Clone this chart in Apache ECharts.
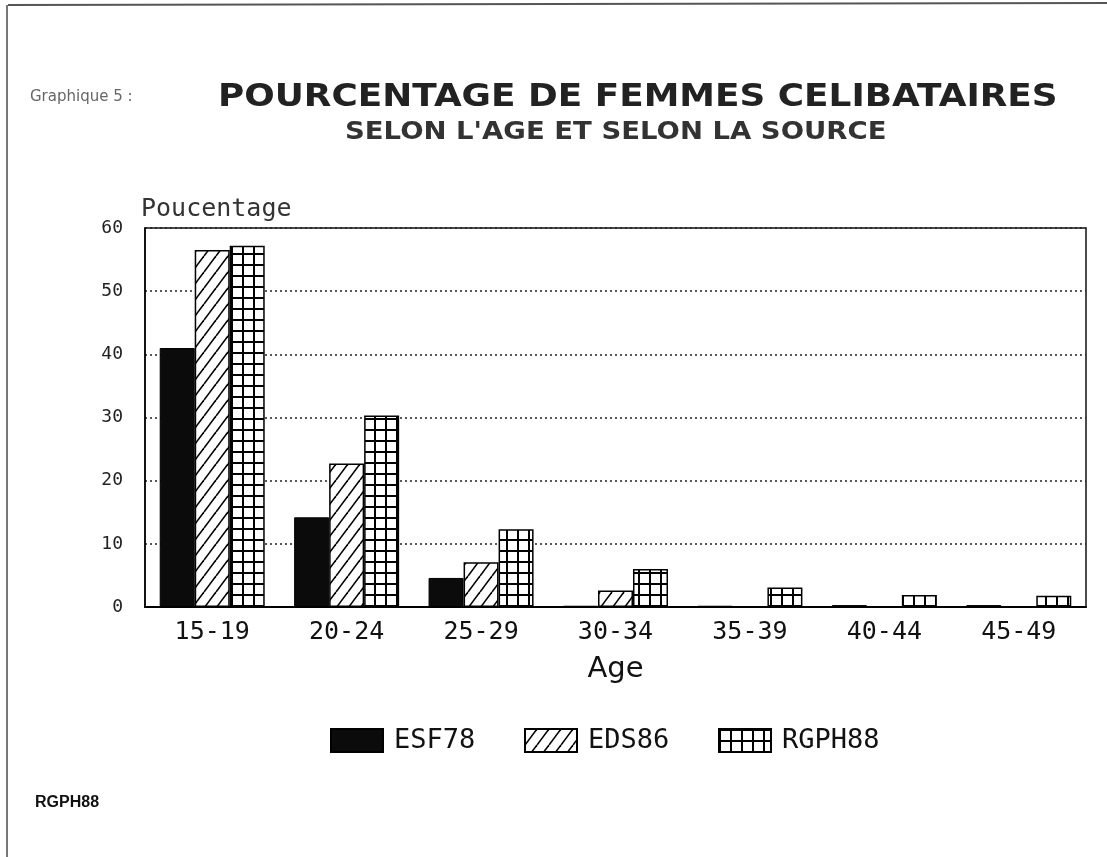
<!DOCTYPE html>
<html>
<head>
<meta charset="utf-8">
<script src="https://cdn.jsdelivr.net/npm/echarts@6/dist/echarts.min.js"></script>
<style>
  html, body { margin: 0; padding: 0; background: #fff; }
  #chart { width: 1107px; height: 857px; }
</style>
</head>
<body>
<div id="chart"></div>
<script>
// data
const categories = ["15-19", "20-24", "25-29", "30-34", "35-39", "40-44", "45-49"];
const esf78 = [41.0, 14.2, 4.6, 0.2, 0.2, 0.3, 0.3];
const eds86 = [56.5, 22.7, 7.1, 2.6, 0, 0, 0];
const rgph88 = [57.2, 30.3, 12.3, 6.0, 3.1, 1.9, 1.8];
const yTicks = [0, 10, 20, 30, 40, 50, 60];
const seriesNames = ["ESF78", "EDS86", "RGPH88"];

// hatched pattern for EDS86
const makeHatch = () => {
  const c = document.createElement("canvas");
  c.width = 12;
  c.height = 16;
  const ctx = c.getContext("2d");
  ctx.fillStyle = "#fff";
  ctx.fillRect(0, 0, 12, 16);
  ctx.strokeStyle = "#000";
  ctx.lineWidth = 1.6;
  [-12, 0, 12].forEach((x0) => {
    ctx.beginPath();
    ctx.moveTo(x0, 16);
    ctx.lineTo(x0 + 12, 0);
    ctx.stroke();
  });
  return c;
};

// grid pattern for RGPH88
const makeGrid = () => {
  const c = document.createElement("canvas");
  c.width = 11;
  c.height = 11;
  const ctx = c.getContext("2d");
  ctx.fillStyle = "#fff";
  ctx.fillRect(0, 0, 11, 11);
  ctx.fillStyle = "#000";
  ctx.fillRect(0, 0, 2, 11);
  ctx.fillRect(0, 0, 11, 2);
  return c;
};

const mono = "'DejaVu Sans Mono', monospace";
const sans = "'DejaVu Sans', sans-serif";

// one legend block per series so each sits where the scan has it
const legendLeft = [325, 519, 713];
const legends = seriesNames.map((name, i) => ({
  data: [name],
  left: legendLeft[i],
  top: 722,
  icon: "rect",
  itemWidth: 52,
  itemHeight: 23,
  textStyle: { fontSize: 27, color: "#111", fontFamily: mono, padding: [0, 0, 0, 6] },
}));

const myChart = echarts.init(document.getElementById("chart"));

const option = {
  backgroundColor: "#fff",
  animation: false,
  legend: legends,
  grid: {
    left: 145,
    right: 21,
    top: 228,
    bottom: 250,
    show: true,
    borderColor: "#111",
    borderWidth: 1.5,
  },
  xAxis: {
    type: "category",
    data: categories,
    name: "Age",
    nameLocation: "middle",
    nameGap: 48,
    nameTextStyle: { fontSize: 29, color: "#111", fontFamily: sans },
    axisTick: { show: false },
    axisLine: { lineStyle: { color: "#000", width: 2 } },
    axisLabel: { fontSize: 25, color: "#111", margin: 13, fontFamily: mono },
  },
  yAxis: {
    type: "value",
    min: yTicks[0],
    max: yTicks[yTicks.length - 1],
    interval: 10,
    name: "Poucentage",
    nameLocation: "end",
    nameGap: 6,
    nameTextStyle: { fontSize: 25, color: "#333", align: "left", padding: [0, 0, 0, -4], fontFamily: mono },
    axisLine: { show: true, lineStyle: { color: "#000", width: 1.5 } },
    axisTick: { show: false },
    axisLabel: { fontSize: 18, color: "#222", margin: 22, fontFamily: mono },
    splitLine: { lineStyle: { color: "#222", type: [2, 3], width: 1.5 } },
  },
  series: [
    {
      name: seriesNames[0],
      type: "bar",
      data: esf78,
      barWidth: 35,
      barGap: "0%",
      itemStyle: { color: "#0b0b0b", borderColor: "#000", borderWidth: 1 },
    },
    {
      name: seriesNames[1],
      type: "bar",
      data: eds86,
      barWidth: 35,
      barGap: "0%",
      itemStyle: { color: { image: makeHatch(), repeat: "repeat" }, borderColor: "#000", borderWidth: 1.5 },
    },
    {
      name: seriesNames[2],
      type: "bar",
      data: rgph88,
      barWidth: 35,
      barGap: "0%",
      itemStyle: { color: { image: makeGrid(), repeat: "repeat" }, borderColor: "#000", borderWidth: 1.5 },
    },
  ],
  graphic: [
    // titles, stretched a little to the width of the scanned lettering
    {
      type: "text",
      left: 30,
      top: 90,
      style: { text: "Graphique 5 :", font: "15px " + sans, fill: "#666" },
    },
    {
      type: "text",
      left: 218,
      top: 82,
      scaleX: 1.12,
      style: { text: "POURCENTAGE DE FEMMES CELIBATAIRES", font: "bold 32px " + sans, fill: "#222" },
    },
    {
      type: "text",
      left: 345,
      top: 120,
      scaleX: 1.1,
      style: { text: "SELON L'AGE ET SELON LA SOURCE", font: "bold 25px " + sans, fill: "#333" },
    },
    {
      type: "text",
      left: 35,
      top: 795,
      style: { text: "RGPH88", font: "bold 16px 'Liberation Sans', sans-serif", fill: "#111" },
    },
    // scan frame edges
    { type: "line", shape: { x1: 8, y1: 5, x2: 1107, y2: 3 }, style: { stroke: "#555", lineWidth: 2 } },
    { type: "line", shape: { x1: 7, y1: 5, x2: 7, y2: 857 }, style: { stroke: "#777", lineWidth: 2 } },
  ],
};

myChart.setOption(option);
</script>
</body>
</html>
